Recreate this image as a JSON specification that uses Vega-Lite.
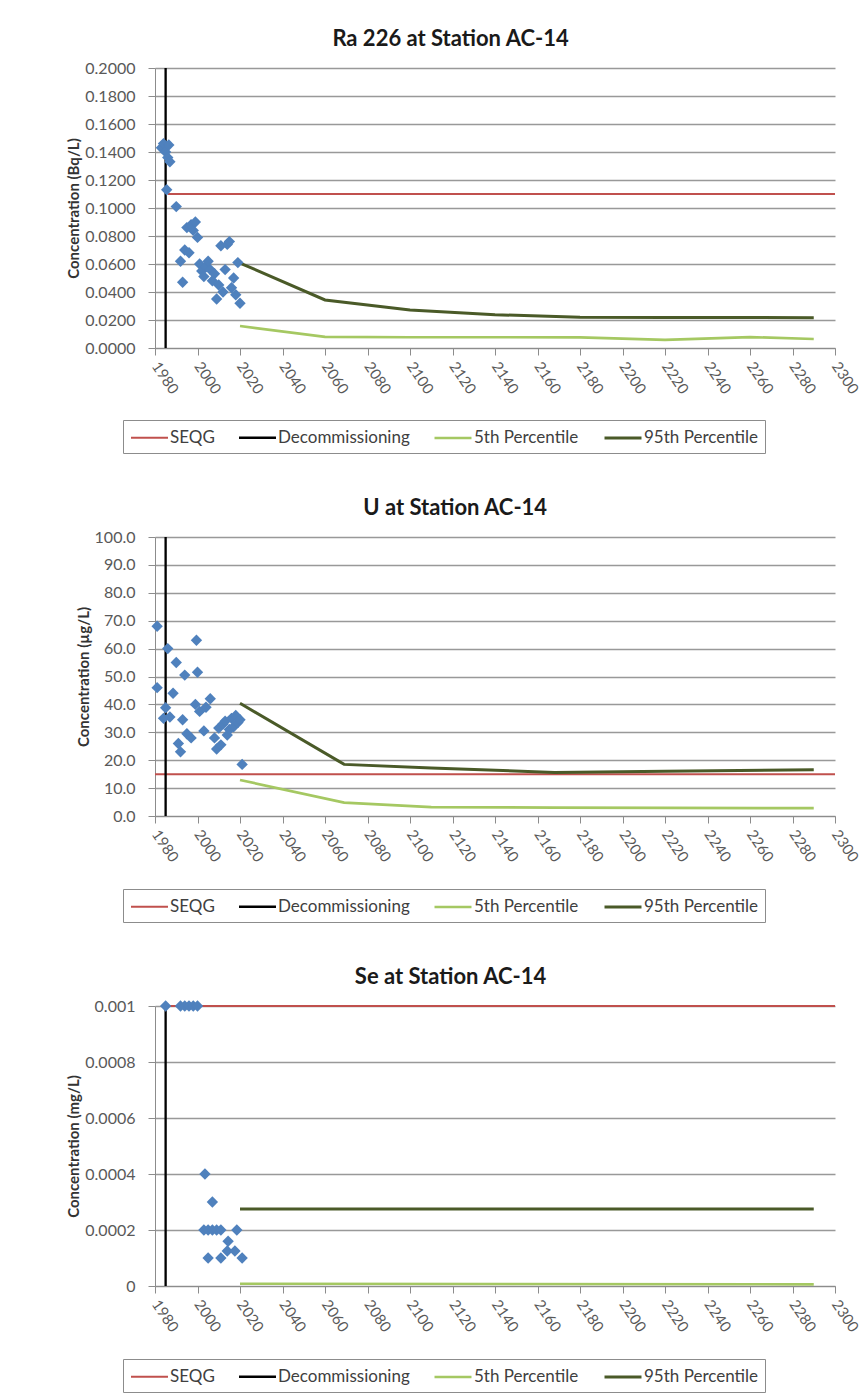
{
  "$schema": "https://vega.github.io/schema/vega-lite/v6.json",
  "background": "white",
  "padding": {"left": 66, "top": 28, "right": 5, "bottom": 0},
  "spacing": 43,
  "resolve": {"scale": {"color": "independent", "strokeWidth": "independent"}, "legend": {"color": "independent", "strokeWidth": "independent"}},
  "datasets": {
    "ra_lines": [
      {"series": "SEQG", "year": 1986, "value": 0.11},
      {"series": "SEQG", "year": 2300, "value": 0.11},
      {"series": "Decommissioning", "year": 1985, "value": 0},
      {"series": "Decommissioning", "year": 1985, "value": 0.2},
      {"series": "5th Percentile", "year": 2020, "value": 0.0157},
      {"series": "5th Percentile", "year": 2060, "value": 0.0079},
      {"series": "5th Percentile", "year": 2100, "value": 0.0077},
      {"series": "5th Percentile", "year": 2140, "value": 0.0077},
      {"series": "5th Percentile", "year": 2180, "value": 0.0076},
      {"series": "5th Percentile", "year": 2220, "value": 0.0058},
      {"series": "5th Percentile", "year": 2260, "value": 0.0078},
      {"series": "5th Percentile", "year": 2290, "value": 0.0064},
      {"series": "95th Percentile", "year": 2020, "value": 0.0607},
      {"series": "95th Percentile", "year": 2060, "value": 0.0343},
      {"series": "95th Percentile", "year": 2100, "value": 0.0272},
      {"series": "95th Percentile", "year": 2140, "value": 0.0238},
      {"series": "95th Percentile", "year": 2180, "value": 0.0219},
      {"series": "95th Percentile", "year": 2220, "value": 0.0217},
      {"series": "95th Percentile", "year": 2260, "value": 0.0218},
      {"series": "95th Percentile", "year": 2290, "value": 0.0216}
    ],
    "ra_pts": [
      {"year": 1983, "value": 0.143}, {"year": 1984, "value": 0.146}, {"year": 1985, "value": 0.140},
      {"year": 1986, "value": 0.136}, {"year": 1986.5, "value": 0.145}, {"year": 1987, "value": 0.133},
      {"year": 1985.5, "value": 0.113}, {"year": 1990, "value": 0.101}, {"year": 1992, "value": 0.062},
      {"year": 1993, "value": 0.047}, {"year": 1994, "value": 0.070}, {"year": 1995, "value": 0.086},
      {"year": 1996, "value": 0.068}, {"year": 1997, "value": 0.088}, {"year": 1998, "value": 0.084},
      {"year": 1999, "value": 0.090}, {"year": 2000, "value": 0.079}, {"year": 2001, "value": 0.060},
      {"year": 2002, "value": 0.055}, {"year": 2003, "value": 0.051}, {"year": 2004, "value": 0.058},
      {"year": 2005, "value": 0.062}, {"year": 2006, "value": 0.056}, {"year": 2007, "value": 0.048},
      {"year": 2008, "value": 0.053}, {"year": 2009, "value": 0.035}, {"year": 2010, "value": 0.045},
      {"year": 2011, "value": 0.073}, {"year": 2012, "value": 0.040}, {"year": 2013, "value": 0.056},
      {"year": 2014, "value": 0.074}, {"year": 2015, "value": 0.076}, {"year": 2016, "value": 0.043},
      {"year": 2017, "value": 0.050}, {"year": 2018, "value": 0.038}, {"year": 2019, "value": 0.061},
      {"year": 2020, "value": 0.032}
    ],
    "u_lines": [
      {"series": "SEQG", "year": 1980, "value": 15},
      {"series": "SEQG", "year": 2300, "value": 15},
      {"series": "Decommissioning", "year": 1985, "value": 0},
      {"series": "Decommissioning", "year": 1985, "value": 100},
      {"series": "5th Percentile", "year": 2020, "value": 12.9},
      {"series": "5th Percentile", "year": 2069, "value": 4.8},
      {"series": "5th Percentile", "year": 2110, "value": 3.2},
      {"series": "5th Percentile", "year": 2168, "value": 3.0},
      {"series": "5th Percentile", "year": 2220, "value": 2.9},
      {"series": "5th Percentile", "year": 2290, "value": 2.8},
      {"series": "95th Percentile", "year": 2020, "value": 40.4},
      {"series": "95th Percentile", "year": 2069, "value": 18.5},
      {"series": "95th Percentile", "year": 2110, "value": 17.2},
      {"series": "95th Percentile", "year": 2168, "value": 15.6},
      {"series": "95th Percentile", "year": 2220, "value": 16.0},
      {"series": "95th Percentile", "year": 2290, "value": 16.6}
    ],
    "u_pts": [
      {"year": 1981, "value": 68}, {"year": 1981, "value": 46}, {"year": 1986, "value": 60},
      {"year": 1985, "value": 38.8}, {"year": 1984, "value": 35}, {"year": 1987, "value": 35.5},
      {"year": 1988.5, "value": 44}, {"year": 1990, "value": 55}, {"year": 1991, "value": 26},
      {"year": 1992, "value": 23}, {"year": 1993, "value": 34.5}, {"year": 1994, "value": 50.5},
      {"year": 1995, "value": 29.5}, {"year": 1997, "value": 28}, {"year": 1999.5, "value": 63},
      {"year": 2000, "value": 51.5}, {"year": 1999, "value": 40}, {"year": 2001, "value": 37.5},
      {"year": 2003, "value": 30.5}, {"year": 2004, "value": 39}, {"year": 2006, "value": 42},
      {"year": 2008, "value": 28}, {"year": 2009, "value": 24}, {"year": 2010, "value": 31.5},
      {"year": 2011, "value": 25.5}, {"year": 2012, "value": 33}, {"year": 2013, "value": 34},
      {"year": 2014, "value": 29}, {"year": 2015, "value": 31}, {"year": 2016, "value": 35},
      {"year": 2017, "value": 32}, {"year": 2018, "value": 36}, {"year": 2019, "value": 33.5},
      {"year": 2020, "value": 34.5}, {"year": 2021, "value": 18.5}
    ],
    "se_lines": [
      {"series": "SEQG", "year": 1985, "value": 0.001},
      {"series": "SEQG", "year": 2300, "value": 0.001},
      {"series": "Decommissioning", "year": 1985, "value": 0},
      {"series": "Decommissioning", "year": 1985, "value": 0.001},
      {"series": "5th Percentile", "year": 2020, "value": 0.000008},
      {"series": "5th Percentile", "year": 2290, "value": 0.000006},
      {"series": "95th Percentile", "year": 2020, "value": 0.000275},
      {"series": "95th Percentile", "year": 2290, "value": 0.000275}
    ],
    "se_pts": [
      {"year": 1985, "value": 0.001}, {"year": 1992, "value": 0.001}, {"year": 1994, "value": 0.001},
      {"year": 1996, "value": 0.001}, {"year": 1998, "value": 0.001}, {"year": 2000, "value": 0.001},
      {"year": 2003.5, "value": 0.0004}, {"year": 2007, "value": 0.0003},
      {"year": 2003, "value": 0.0002}, {"year": 2005, "value": 0.0002}, {"year": 2007, "value": 0.0002},
      {"year": 2009, "value": 0.0002}, {"year": 2011, "value": 0.0002}, {"year": 2018.5, "value": 0.0002},
      {"year": 2005, "value": 0.0001}, {"year": 2011, "value": 0.0001}, {"year": 2014, "value": 0.000125},
      {"year": 2014.4, "value": 0.00016}, {"year": 2017.6, "value": 0.000125}, {"year": 2021, "value": 0.0001}
    ]
  },
  "vconcat": [
    {
      "width": 680, "height": 280,
      "title": {"text": "Ra 226 at Station AC-14"},
      "encoding": {
        "x": {"field": "year", "type": "quantitative", "scale": {"domain": [1980, 2300]}, "axis": {"values": [1980,2000,2020,2040,2060,2080,2100,2120,2140,2160,2180,2200,2220,2240,2260,2280,2300], "format": "d", "title": null}},
        "y": {"field": "value", "type": "quantitative", "scale": {"domain": [0, 0.2]}, "axis": {"values": [0,0.02,0.04,0.06,0.08,0.1,0.12,0.14,0.16,0.18,0.2], "format": ".4f", "title": "Concentration (Bq/L)"}}
      },
      "layer": [
        {
          "data": {"name": "ra_lines"},
          "mark": {"type": "line"},
          "encoding": {
            "color": {"field": "series", "type": "nominal", "scale": {"domain": ["SEQG","Decommissioning","5th Percentile","95th Percentile"], "range": ["#C0504D","#000000","#A5C862","#4A5A28"]}, "legend": {"title": null, "orient": "none", "direction": "horizontal", "legendX": -32, "legendY": 352}},
            "strokeWidth": {"field": "series", "type": "nominal", "scale": {"domain": ["SEQG","Decommissioning","5th Percentile","95th Percentile"], "range": [2, 3, 2.5, 3]}, "legend": {"title": null, "orient": "none", "direction": "horizontal", "legendX": -32, "legendY": 352}}
          }
        },
        {
          "data": {"name": "ra_pts"},
          "mark": {"type": "point", "shape": "diamond", "filled": true, "color": "#4F81BD", "size": 130, "opacity": 1}
        }
      ]
    },
    {
      "width": 680, "height": 279,
      "title": {"text": "U at Station AC-14"},
      "encoding": {
        "x": {"field": "year", "type": "quantitative", "scale": {"domain": [1980, 2300]}, "axis": {"values": [1980,2000,2020,2040,2060,2080,2100,2120,2140,2160,2180,2200,2220,2240,2260,2280,2300], "format": "d", "title": null}},
        "y": {"field": "value", "type": "quantitative", "scale": {"domain": [0, 100]}, "axis": {"values": [0,10,20,30,40,50,60,70,80,90,100], "format": ".1f", "title": "Concentration (µg/L)"}}
      },
      "layer": [
        {
          "data": {"name": "u_lines"},
          "mark": {"type": "line"},
          "encoding": {
            "color": {"field": "series", "type": "nominal", "scale": {"domain": ["SEQG","Decommissioning","5th Percentile","95th Percentile"], "range": ["#C0504D","#000000","#A5C862","#4A5A28"]}, "legend": {"title": null, "orient": "none", "direction": "horizontal", "legendX": -32, "legendY": 352}},
            "strokeWidth": {"field": "series", "type": "nominal", "scale": {"domain": ["SEQG","Decommissioning","5th Percentile","95th Percentile"], "range": [2, 3, 2.5, 3]}, "legend": {"title": null, "orient": "none", "direction": "horizontal", "legendX": -32, "legendY": 352}}
          }
        },
        {
          "data": {"name": "u_pts"},
          "mark": {"type": "point", "shape": "diamond", "filled": true, "color": "#4F81BD", "size": 130, "opacity": 1}
        }
      ]
    },
    {
      "width": 680, "height": 280,
      "title": {"text": "Se at Station AC-14"},
      "encoding": {
        "x": {"field": "year", "type": "quantitative", "scale": {"domain": [1980, 2300]}, "axis": {"values": [1980,2000,2020,2040,2060,2080,2100,2120,2140,2160,2180,2200,2220,2240,2260,2280,2300], "format": "d", "title": null}},
        "y": {"field": "value", "type": "quantitative", "scale": {"domain": [0, 0.001]}, "axis": {"values": [0,0.0002,0.0004,0.0006,0.0008,0.001], "format": ".4~f", "title": "Concentration (mg/L)"}}
      },
      "layer": [
        {
          "data": {"name": "se_lines"},
          "mark": {"type": "line"},
          "encoding": {
            "color": {"field": "series", "type": "nominal", "scale": {"domain": ["SEQG","Decommissioning","5th Percentile","95th Percentile"], "range": ["#C0504D","#000000","#A5C862","#4A5A28"]}, "legend": {"title": null, "orient": "none", "direction": "horizontal", "legendX": -32, "legendY": 353}},
            "strokeWidth": {"field": "series", "type": "nominal", "scale": {"domain": ["SEQG","Decommissioning","5th Percentile","95th Percentile"], "range": [2, 3, 2.5, 3]}, "legend": {"title": null, "orient": "none", "direction": "horizontal", "legendX": -32, "legendY": 353}}
          }
        },
        {
          "data": {"name": "se_pts"},
          "mark": {"type": "point", "shape": "diamond", "filled": true, "color": "#4F81BD", "size": 130, "opacity": 1}
        }
      ]
    }
  ],
  "config": {
    "font": "Lato",
    "view": {"stroke": null},
    "title": {"fontSize": 22, "fontWeight": "bold", "color": "#1a1a1a", "anchor": "middle", "frame": "bounds", "offset": 9, "dx": -13},
    "axis": {"labelColor": "#595959", "labelFontSize": 16, "labelOverlap": false, "domainColor": "#8c8c8c", "tickColor": "#8c8c8c", "gridColor": "#999999", "gridWidth": 1.3, "titleColor": "#333333", "titleFontWeight": "bold", "titleFontSize": 15, "tickSize": 7},
    "axisX": {"grid": false, "labelAngle": 56, "labelAlign": "left", "labelBaseline": "middle", "labelPadding": 8, "labelFontSize": 15},
    "axisY": {"grid": true, "titlePadding": 3, "labelPadding": 13},
    "legend": {"strokeColor": "#8c8c8c", "padding": 7, "symbolType": "M-2,0H2", "symbolSize": 342, "symbolOffset": 9, "labelOffset": 10, "labelFontSize": 17, "labelColor": "#404040", "columnPadding": 19}
  }
}
